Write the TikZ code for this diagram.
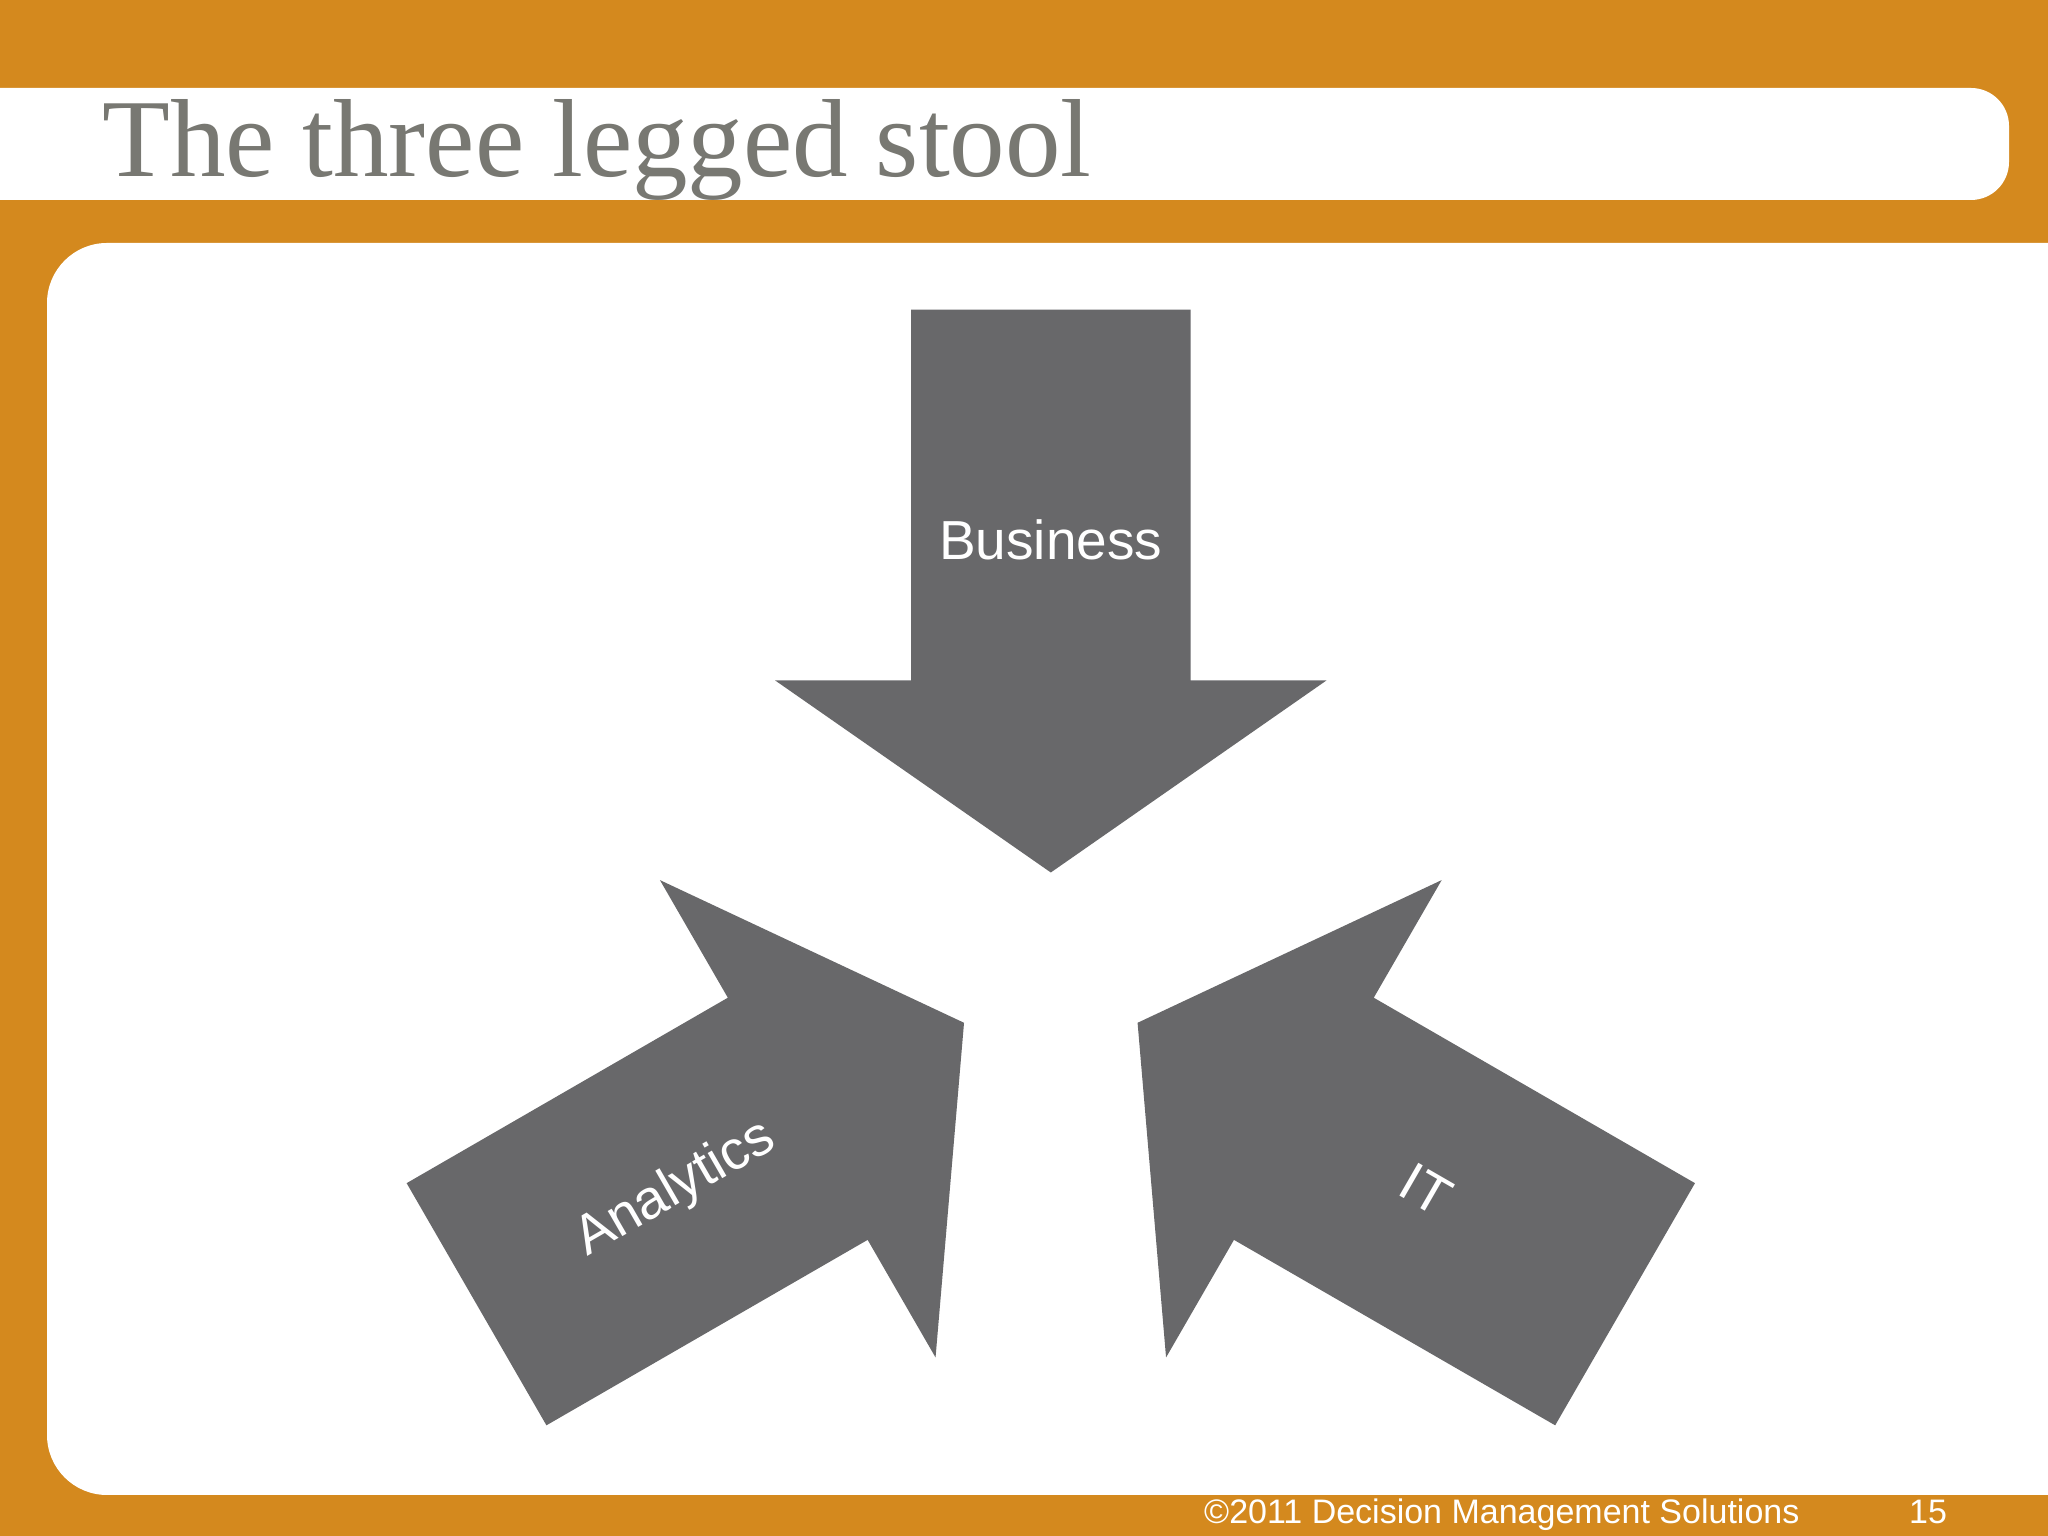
\documentclass[tikz,border=0pt]{standalone}
\usepackage{fontspec}
\setmainfont{Liberation Serif}
\setsansfont{Liberation Sans}
\definecolor{slideorange}{RGB}{212,137,30}
\definecolor{leggray}{RGB}{104,104,106}
\definecolor{titlegray}{RGB}{120,120,114}

\begin{document}
\begin{tikzpicture}[x=1pt, y=1pt,
  leg/.style={fill=leggray},
  leglabel/.style={text=white, font=\sffamily\fontsize{55}{62}\selectfont},
  foot/.style={text=white, inner sep=0pt, anchor=base west, font=\sffamily\fontsize{34}{40}\selectfont}]
  \clip (0,0) rectangle (2048,1536);
  \fill[slideorange] (0,0) rectangle (2048,1536);
  \fill[white, rounded corners=38pt] (-60,1336) rectangle (2009,1448);
  \fill[white, rounded corners=60pt] (47,41) rectangle (2160,1293);
  \node[anchor=base west, inner sep=0pt, text=titlegray, font=\fontsize{111}{120}\selectfont] (title) at (102,1359) {The three legged stool};
  % the three legs
  \coordinate (hub) at (1050.8,563.3);
  \foreach \ang/\txt/\rot/\nm in {0/Business/0/business, 120/Analytics/30/analytics, -120/IT/-30/it} {
    \fill[leg, shift={(hub)}, rotate=\ang] (0,100.2) -- (275.6,292.2) -- (139.8,292.2) -- (139.8,663.1)
      -- (-139.8,663.1) -- (-139.8,292.2) -- (-275.6,292.2) -- cycle;
    \node[leglabel, rotate=\rot] (\nm) at ([shift={({90+\ang}:433.3)}]hub) {\txt};
  }
  \node[foot] (copyright) at (1204,12) {©2011 Decision Management Solutions};
  \node[foot] (pagenum) at (1909,12) {15};
\end{tikzpicture}
\end{document}
